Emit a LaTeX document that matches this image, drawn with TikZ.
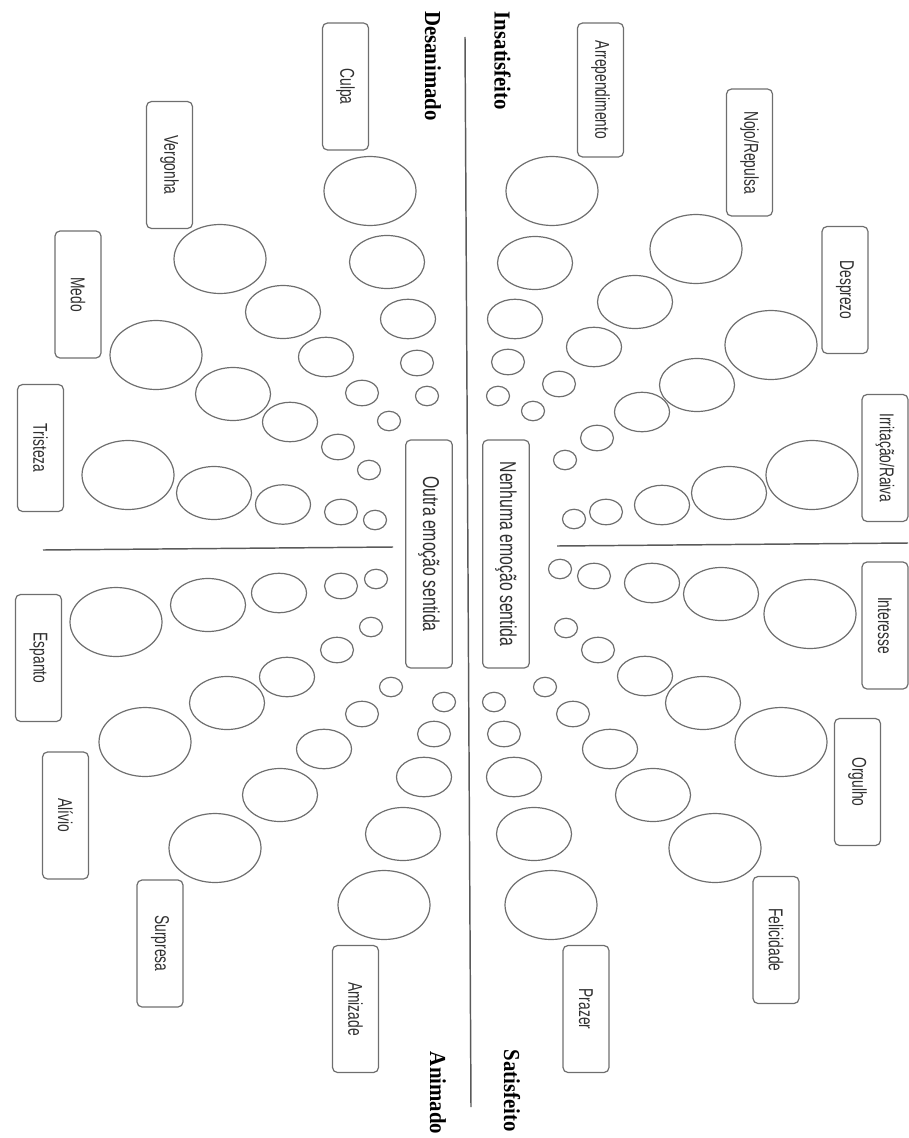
\documentclass[tikz,border=0pt]{standalone}
\usepackage{fontspec}
\setmainfont{Liberation Sans}
\newfontfamily\polefont{Liberation Serif}
\usepackage{graphicx}
\usepackage{xcolor}
\definecolor{ringgray}{HTML}{6E6E6E}
\definecolor{axisgray}{HTML}{5A5A5A}
\definecolor{labelgray}{HTML}{303030}
\usetikzlibrary{shapes.geometric}
\newcommand{\vstretch}[2][1.45]{\scalebox{1}[#1]{#2}}

\begin{document}
\begin{tikzpicture}[
  x=0.75pt, y=-0.75pt,
  ring/.style={ellipse, draw=ringgray, line width=0.9pt, inner sep=0pt},
  ring5/.style={ring, minimum width=69pt, minimum height=51.75pt},
  ring4/.style={ring, minimum width=56.25pt, minimum height=39.75pt},
  ring3/.style={ring, minimum width=41.25pt, minimum height=29.6pt},
  ring2/.style={ring, minimum width=24.75pt, minimum height=19.1pt},
  ring1/.style={ring, minimum width=17.25pt, minimum height=14.6pt},
  emotion/.style={rectangle, rounded corners=3.75pt, draw=ringgray, line width=0.9pt,
    rotate=-90, minimum width=95.25pt, minimum height=34.5pt, inner sep=0pt,
    font=\fontsize{10.35}{12}\selectfont, text=labelgray},
  nonebox/.style={emotion, minimum width=171pt, minimum height=35pt,
    font=\fontsize{11.85}{14}\selectfont},
  pole/.style={rotate=-90, inner sep=0pt, text=black,
    font=\polefont\bfseries\fontsize{15.6}{18}\selectfont},
  divider/.style={draw=axisgray, line width=1.1pt}
]
\useasboundingbox (0,0) rectangle (908,1138);

% axes of the wheel
\draw[divider] (465,37) -- (471,1107);
\draw[divider] (43,550) -- (393,547);
\draw[divider] (557,546) -- (908,543);

% poles
\node[pole] (insat) at (502.5,61) {\vstretch[1.1]{Insatisfeito}};
\node[pole] (desan) at (433,66) {\vstretch[1.1]{Desanimado}};
\node[pole] (satis) at (512,1091) {\vstretch[1.1]{Satisfeito}};
\node[pole] (anim) at (438,1093) {\vstretch[1.1]{Animado}};

% centre boxes
\node[nonebox] (outra) at (429,554) {\vstretch{Outra emoção sentida}};
\node[nonebox] (nenhuma) at (506,554) {\vstretch{Nenhuma emoção sentida}};

% emotion labels
\foreach \n/\x/\y/\t in {culpa/345.5/86.5/Culpa, vergonha/169.5/165/Vergonha,
    medo/78/294.5/Medo, tristeza/40.5/448/Tristeza, espanto/38.5/658/Espanto,
    alivio/65.5/815.5/Alívio, surpresa/160/943.5/Surpresa, amizade/355.5/1009/Amizade,
    prazer/586/1009/Prazer, felicidade/776/940/Felicidade, orgulho/857.5/782/Orgulho,
    interesse/885/625.5/Interesse, irritacao/885/458/{Irritação/Raiva},
    desprezo/845/290/Desprezo, nojo/749.5/152.5/{Nojo/Repulsa}}
  \node[emotion] (\n) at (\x,\y) {\vstretch{\t}};
\node[emotion, minimum width=100.5pt] (arrep) at (600.5,90) {\vstretch{Arrependimento}};

% intensity rings, biggest outside
\foreach \n/\x/\y in {culpa/370/191, vergonha/220/259, medo/156/355, tristeza/128/475,
    espanto/116/622, alivio/145/742, surpresa/215/848, amizade/384/905,
    prazer/551/905, felicidade/715/848, orgulho/781/742, interesse/810/614,
    irritacao/812/475, desprezo/771/345, nojo/696/249, arrep/552/191}
  \node[ring5] (\n5) at (\x,\y) {};
\foreach \n/\x/\y in {culpa/387/262, vergonha/283/312, medo/233/394, tristeza/214/493,
    espanto/208/605, alivio/227/703, surpresa/280/795, amizade/403/834,
    prazer/534/834, felicidade/653/795, orgulho/703/703, interesse/721/594,
    irritacao/729/493, desprezo/697/385, nojo/635/302, arrep/535/263}
  \node[ring4] (\n4) at (\x,\y) {};
\foreach \n/\x/\y in {culpa/408/319, vergonha/326/357, medo/290/422, tristeza/283/504.5,
    espanto/279/593, alivio/287/677, surpresa/324/749, amizade/424/777,
    prazer/514/777, felicidade/610/749, orgulho/645/676, interesse/652/583,
    irritacao/662/505, desprezo/642/412, nojo/594/347, arrep/515/319}
  \node[ring3] (\n3) at (\x,\y) {};
\foreach \n/\x/\y in {culpa/417/363, vergonha/362/393, medo/338/447, tristeza/341/512,
    espanto/341/586, alivio/337/650, surpresa/362/714, amizade/434/734,
    prazer/504/734, felicidade/573/714, orgulho/598/650, interesse/594/576,
    irritacao/606/512, desprezo/597/438, nojo/559/384, arrep/508/362}
  \node[ring2] (\n2) at (\x,\y) {};
\foreach \n/\x/\y in {culpa/427/396, vergonha/389/421, medo/369/470, tristeza/375/520,
    espanto/376/579, alivio/371/627, surpresa/391/687, amizade/444/702,
    prazer/494/702, felicidade/545/687, orgulho/566/628, interesse/560/569,
    irritacao/574/519, desprezo/565/460, nojo/533/411, arrep/498/396}
  \node[ring1] (\n1) at (\x,\y) {};
\end{tikzpicture}
\end{document}
